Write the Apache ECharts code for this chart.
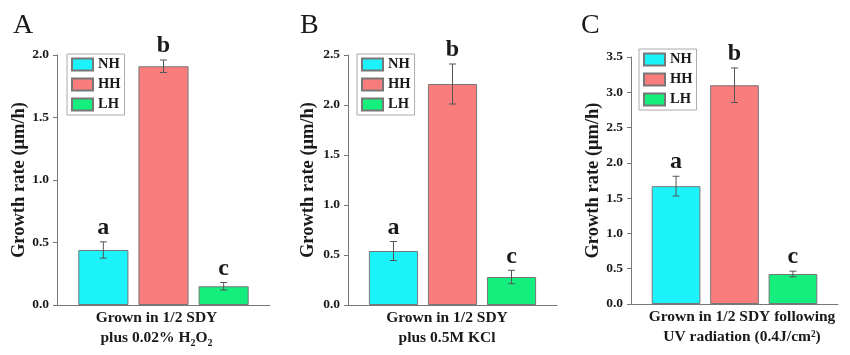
<!DOCTYPE html>
<html>
<head>
<meta charset="utf-8">
<script src="https://cdn.jsdelivr.net/npm/echarts@6/dist/echarts.min.js"></script>
<style>
html,body{margin:0;padding:0;background:#fff;}
#chart{width:850px;height:355px;}
</style>
</head>
<body>
<div id="chart"></div>
<script>
// ---- data ----
var seriesNames = ['NH', 'HH', 'LH'];
var panelLetters = ['A', 'B', 'C'];
var xLabelA = ['Grown in 1/2 SDY\nplus 0.02% H{s|2}O{s|2}'];
var xLabelB = ['Grown in 1/2 SDY\nplus 0.5M KCl'];
var xLabelC = ['Grown in 1/2 SDY following\nUV radiation (0.4J/cm²)'];
var valsA = [0.44, 1.91, 0.15];
var errA  = [0.065, 0.05, 0.03];
var valsB = [0.54, 2.21, 0.28];
var errB  = [0.095, 0.20, 0.067];
var valsC = [1.67, 3.10, 0.425];
var errC  = [0.14, 0.245, 0.04];
var sigLetters = ['a', 'b', 'c'];
var yMax = [2.0, 2.5, 3.5];
var yInterval = 0.5;
var yName = 'Growth rate (μm/h)';

// ---- style ----
var FONT = '"Liberation Serif", "Times New Roman", serif';
var colors = ['#1CF2FA', '#FA7D7D', '#14EE7D'];
var BAR_GAP = 0.2, CAT_GAP = 0.2;
var axisColor = '#777';
var txt = '#1a1a1a';

var grids = [
  {left: 57, top: 55, width: 213, height: 250},
  {left: 348, top: 55, width: 209, height: 250},
  {left: 631, top: 57, width: 207, height: 247}
];
var xLabels = [xLabelA, xLabelB, xLabelC];
var vals = [valsA, valsB, valsC];
var errs = [errA, errB, errC];
var nameGaps = [27, 30, 28];
var labelPad = [[0, 14, 0, 0], [0, 11, 0, 0], [0, 0, 0, 15]];
var legendPos = [{left: 67, top: 54}, {left: 357, top: 54}, {left: 639, top: 49}];
var letterPos = [{left: 13, top: 12}, {left: 300, top: 12}, {left: 581, top: 12}];

function makeErr(panel) {
  return function (params, api) {
    var i = params.dataIndex;
    var v = api.value(1), e = api.value(2);
    var base = api.coord([0, v]);
    var W = api.size([1, 0])[0];
    var bw = W * (1 - CAT_GAP) / (3 + 2 * BAR_GAP);
    var cx = base[0] + (i - 1) * bw * (1 + BAR_GAP);
    var top = api.coord([0, v + e])[1];
    var bot = api.coord([0, v - e])[1];
    var ls = {stroke: '#555', lineWidth: 1};
    return {
      type: 'group',
      children: [
        {type: 'line', shape: {x1: cx, y1: top, x2: cx, y2: bot}, style: ls},
        {type: 'line', shape: {x1: cx - 3.5, y1: top, x2: cx + 3.5, y2: top}, style: ls},
        {type: 'line', shape: {x1: cx - 3.5, y1: bot, x2: cx + 3.5, y2: bot}, style: ls},
        {type: 'text', x: cx, y: top - 2, style: {
          text: sigLetters[i], textAlign: 'center', textVerticalAlign: 'bottom',
          font: 'bold 24px ' + FONT, fill: txt}}
      ]
    };
  };
}

var option = {
  backgroundColor: '#fff',
  animation: false,
  title: panelLetters.map(function (t, k) {
    return {text: t, left: letterPos[k].left, top: letterPos[k].top, padding: 0,
      textStyle: {fontFamily: FONT, fontSize: 28, fontWeight: 'normal', color: txt}};
  }),
  legend: grids.map(function (g, k) {
    return {
      data: seriesNames, orient: 'vertical', left: legendPos[k].left, top: legendPos[k].top,
      icon: 'rect', itemWidth: 21, itemHeight: 12, itemGap: 5, selectedMode: false,
      padding: [3, 4, 3, 4], borderColor: '#aaa', borderWidth: 1,
      textStyle: {fontFamily: FONT, fontSize: 14.5, fontWeight: 'bold', color: txt}
    };
  }),
  grid: grids,
  xAxis: grids.map(function (g, k) {
    return {
      type: 'category', gridIndex: k, data: xLabels[k],
      axisLine: {lineStyle: {color: axisColor, width: 1}},
      axisTick: {show: false},
      axisLabel: {
        margin: 3, interval: 0, fontFamily: FONT, fontSize: 15.5, fontWeight: 'bold',
        color: txt, lineHeight: 20, align: 'center', padding: labelPad[k],
        rich: {s: {fontFamily: FONT, fontSize: 10, fontWeight: 'bold', color: txt,
          verticalAlign: 'bottom', lineHeight: 11}}
      }
    };
  }),
  yAxis: grids.map(function (g, k) {
    return {
      type: 'value', gridIndex: k, min: 0, max: yMax[k], interval: yInterval,
      name: yName, nameLocation: 'middle', nameGap: nameGaps[k],
      nameTextStyle: {fontFamily: FONT, fontSize: 18.5, fontWeight: 'bold', color: txt},
      axisLine: {show: true, lineStyle: {color: axisColor, width: 1}},
      axisTick: {show: true, length: 4, lineStyle: {color: axisColor}},
      splitLine: {show: false},
      axisLabel: {margin: 8, fontFamily: FONT, fontSize: 13.5, fontWeight: 'bold', color: txt,
        formatter: function (v) { return v.toFixed(1); }}
    };
  }),
  series: []
};

grids.forEach(function (g, k) {
  seriesNames.forEach(function (n, i) {
    var d = [vals[k][i]];
    option.series.push({
      type: 'bar', name: n, xAxisIndex: k, yAxisIndex: k, data: d,
      barGap: (BAR_GAP * 100) + '%', barCategoryGap: (CAT_GAP * 100) + '%',
      itemStyle: {color: colors[i], borderColor: '#777', borderWidth: 1},
      emphasis: {disabled: true}
    });
  });
  option.series.push({
    type: 'custom', xAxisIndex: k, yAxisIndex: k,
    data: vals[k].map(function (v, i) { return [0, v, errs[k][i]]; }),
    encode: {x: 0, y: 1},
    renderItem: makeErr(k), z: 5, silent: true
  });
});

var chart = echarts.init(document.getElementById('chart'), null, {renderer: 'canvas'});
chart.setOption(option);
</script>
</body>
</html>
